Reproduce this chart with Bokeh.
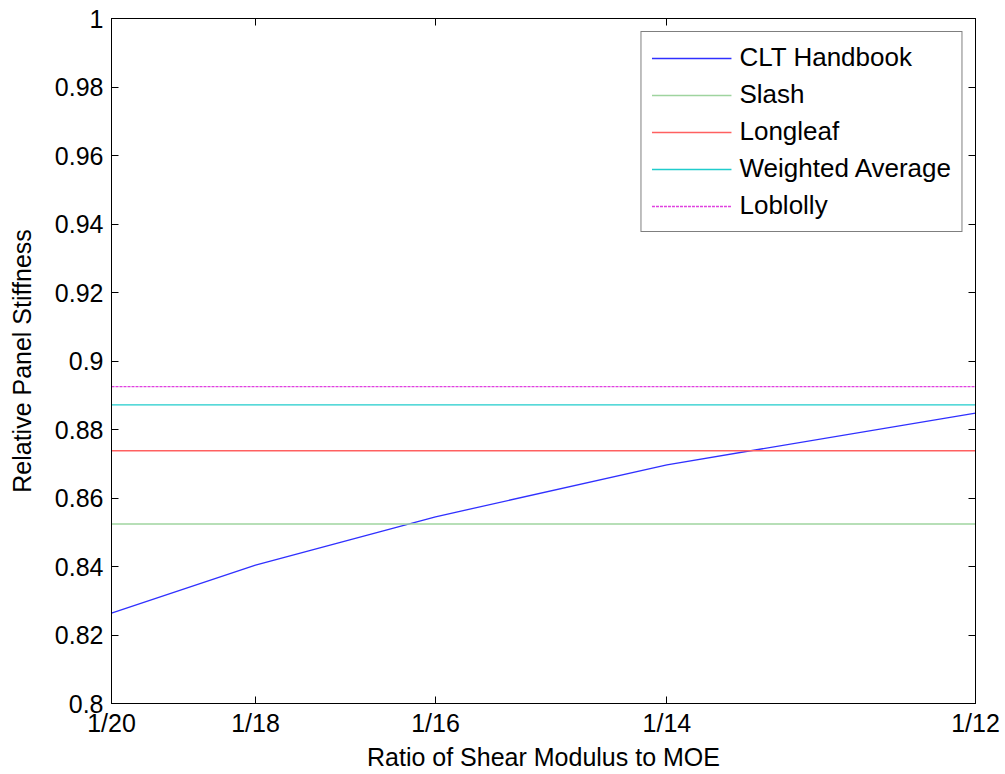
from bokeh.plotting import figure
from bokeh.models import (FixedTicker, CustomJSTickFormatter, LinearAxis, Range1d,
                          Legend, LegendItem)
from bokeh.embed import file_html
from bokeh.resources import INLINE

# ---- data ----
ratio_denoms = [20, 18, 16, 14, 12]
clt_handbook = [0.8264, 0.8404, 0.8545, 0.8697, 0.8848]
slash = 0.8524
longleaf = 0.8738
weighted_average = 0.8872
loblolly = 0.8925
y_ticks = [0.8, 0.82, 0.84, 0.86, 0.88, 0.9, 0.92, 0.94, 0.96, 0.98, 1.0]

x_vals = [1.0 / d for d in ratio_denoms]
x_min, x_max = min(x_vals), max(x_vals)

FONT = "Liberation Sans"

p = figure(width=1005, height=774, output_backend="svg", toolbar_location=None,
           x_range=Range1d(x_min, x_max), y_range=Range1d(0.8, 1.0),
           min_border_left=111, min_border_right=30, min_border_top=18,
           min_border_bottom=71)
p.background_fill_color = "white"
p.border_fill_color = "white"
p.outline_line_color = "black"
p.outline_line_width = 1
p.grid.visible = False

xfmt = CustomJSTickFormatter(code="return '1/' + Math.round(1/tick);")
yfmt = CustomJSTickFormatter(code="return String(Number(tick.toFixed(2)));")
blank = CustomJSTickFormatter(code="return '';")

def style(ax, labels=True):
    ax.major_tick_in = 7
    ax.major_tick_out = 0
    ax.minor_tick_in = 0
    ax.minor_tick_out = 0
    ax.axis_line_color = "black"
    ax.major_tick_line_color = "black"
    ax.major_label_text_font = FONT
    ax.major_label_text_font_size = "25px"
    ax.major_label_text_color = "black"
    ax.axis_label_text_font = FONT
    ax.axis_label_text_font_size = "25px"
    ax.axis_label_text_font_style = "normal"
    ax.axis_label_text_color = "black"
    if not labels:
        ax.major_label_text_font_size = "0px"
        ax.major_label_standoff = 0

xa = p.xaxis[0]
xa.ticker = FixedTicker(ticks=x_vals)
xa.formatter = xfmt
style(xa)
xa.major_label_standoff = 5
xa.axis_label = "Ratio of Shear Modulus to MOE"
xa.axis_label_standoff = 3

ya = p.yaxis[0]
ya.ticker = FixedTicker(ticks=y_ticks)
ya.formatter = yfmt
style(ya)
ya.major_label_standoff = 8
ya.axis_label = "Relative Panel Stiffness"
ya.axis_label_standoff = 16

top = LinearAxis(ticker=FixedTicker(ticks=x_vals), formatter=blank)
style(top, labels=False)
p.add_layout(top, "above")
right = LinearAxis(ticker=FixedTicker(ticks=y_ticks), formatter=blank)
style(right, labels=False)
p.add_layout(right, "right")

r_clt = p.line(x_vals, clt_handbook, line_color="#3030ff", line_width=1.3)
r_slash = p.line([x_min, x_max], [slash, slash], line_color="#9fd49f", line_width=1.5)
r_long = p.line([x_min, x_max], [longleaf, longleaf], line_color="#ff6060", line_width=1.3)
r_wavg = p.line([x_min, x_max], [weighted_average, weighted_average], line_color="#20cccc", line_width=1.3)
r_lob = p.line([x_min, x_max], [loblolly, loblolly], line_color="#e040e0", line_width=1.3,
               line_dash="3 1")

legend = Legend(items=[
    LegendItem(label="CLT Handbook", renderers=[r_clt]),
    LegendItem(label="Slash", renderers=[r_slash]),
    LegendItem(label="Longleaf", renderers=[r_long]),
    LegendItem(label="Weighted Average", renderers=[r_wavg]),
    LegendItem(label="Loblolly", renderers=[r_lob]),
], location="top_right")
legend.margin = 13
legend.padding = 10
legend.spacing = 6
legend.glyph_width = 80
legend.glyph_height = 20
legend.label_height = 20
legend.label_standoff = 8
legend.label_text_font = FONT
legend.label_text_font_size = "26px"
legend.label_text_color = "black"
legend.border_line_color = "black"
legend.border_line_width = 1
legend.background_fill_color = "white"
legend.background_fill_alpha = 1
p.add_layout(legend, "center")

open("out.html", "w").write(file_html(p, INLINE))
